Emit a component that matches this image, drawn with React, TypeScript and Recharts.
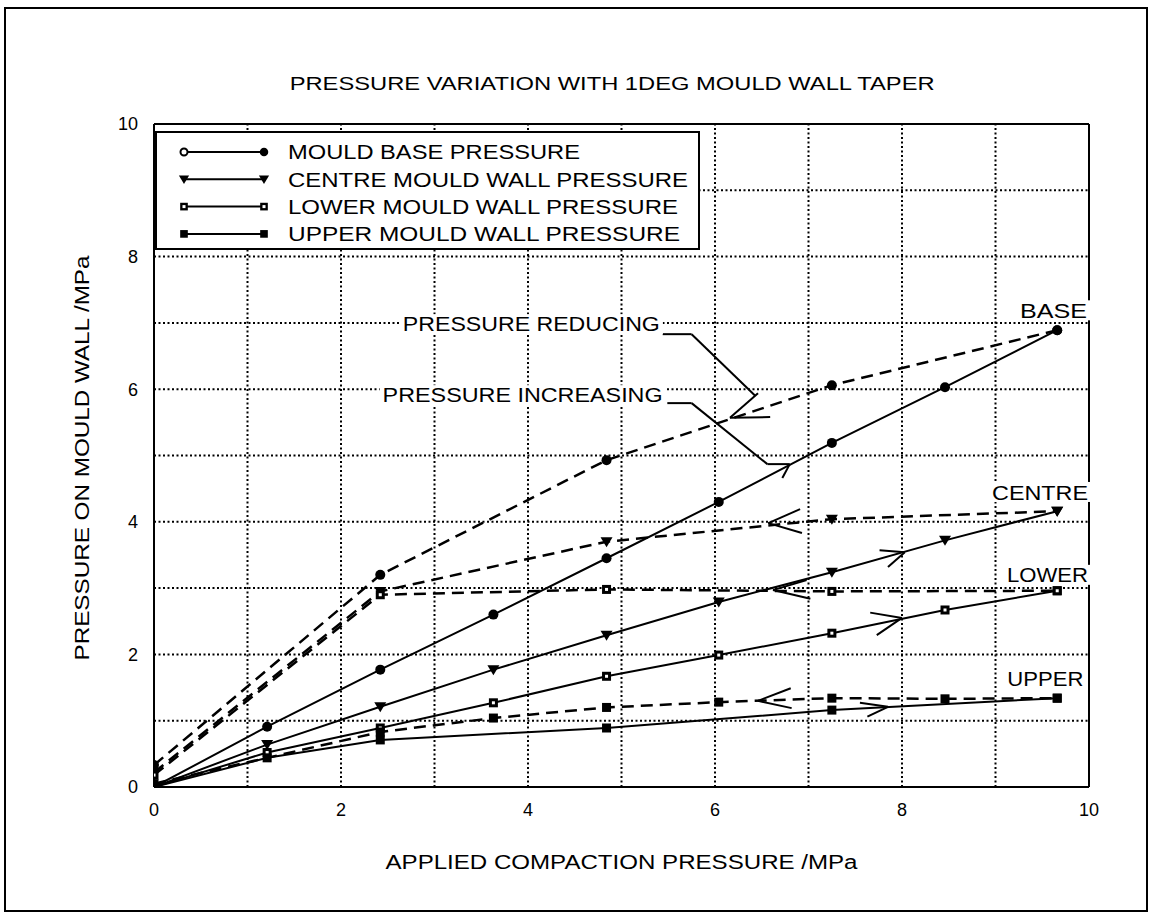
import React from "react";
import {
  LineChart,
  Line,
  XAxis,
  YAxis,
  ReferenceLine,
  ReferenceDot,
  Legend,
  Label,
} from "recharts";

// applied compaction pressure (MPa) at each loading step
const loadSteps = [0, 1.21, 2.42, 3.63, 4.84, 6.04, 7.25, 8.46, 9.66];
const baseIncreasing = [0, 0.91, 1.77, 2.6, 3.45, 4.3, 5.19, 6.03, 6.89];
const centreIncreasing = [0, 0.64, 1.21, 1.77, 2.29, 2.79, 3.24, 3.72, 4.16];
const lowerIncreasing = [0, 0.52, 0.89, 1.27, 1.67, 1.99, 2.32, 2.67, 2.96];

const upperLoadSteps = [0, 1.21, 2.42, 4.84, 7.25, 9.66];
const upperIncreasing = [0, 0.44, 0.71, 0.89, 1.16, 1.34];

// unloading steps
const unloadSteps = [0, 2.42, 4.84, 7.25, 9.66];
const baseReducing = [0.33, 3.2, 4.93, 6.06, 6.89];
const centreReducing = [0.22, 2.95, 3.7, 4.04, 4.16];
const lowerReducing = [0.18, 2.9, 2.98, 2.95, 2.96];

const upperUnloadSteps = [0, 2.42, 3.63, 4.84, 6.04, 7.25, 8.46, 9.66];
const upperReducing = [0.05, 0.83, 1.04, 1.2, 1.28, 1.34, 1.33, 1.34];

const axisTicks = [0, 2, 4, 6, 8, 10];
const gridSteps = [1, 2, 3, 4, 5, 6, 7, 8, 9];

// leader lines for the two notes (data units)
const reducingLeader = [
  [5.44, 6.83],
  [5.75, 6.83],
  [6.43, 5.9],
];
const increasingLeader = [
  [5.49, 5.79],
  [5.75, 5.79],
  [6.56, 4.87],
];
// direction chevrons: arm, tip, arm
const chevrons = [
  [[6.46, 5.94], [6.16, 5.57], [6.59, 5.58]],
  [[6.56, 4.87], [6.8, 4.87], [6.72, 4.66]],
  [[6.91, 4.19], [6.57, 3.98], [6.93, 3.83]],
  [[6.98, 3.12], [6.62, 2.97], [7.02, 2.84]],
  [[7.76, 3.57], [8.03, 3.54], [7.85, 3.32]],
  [[7.66, 2.63], [8.0, 2.55], [7.73, 2.29]],
  [[6.81, 1.49], [6.46, 1.3], [6.82, 1.19]],
  [[7.55, 1.27], [7.85, 1.21], [7.63, 1.06]],
];

const FONT = "'Liberation Sans', Arial, sans-serif";

type Note = {
  text: string;
  x: number;
  y: number;
  anchor: "end" | "middle";
  len: number;
  size: number;
  bg: boolean;
};

const notes: Note[] = [
  { text: "PRESSURE VARIATION WITH 1DEG MOULD WALL TAPER", x: 4.9, y: 10.62, anchor: "middle", len: 645, size: 19, bg: false },
  { text: "PRESSURE REDUCING", x: 5.41, y: 6.98, anchor: "end", len: 257, size: 20, bg: true },
  { text: "PRESSURE INCREASING", x: 5.44, y: 5.91, anchor: "end", len: 280, size: 20, bg: true },
  { text: "BASE", x: 9.98, y: 7.19, anchor: "end", len: 67, size: 21, bg: true },
  { text: "CENTRE", x: 9.99, y: 4.45, anchor: "end", len: 96, size: 21, bg: true },
  { text: "LOWER", x: 9.99, y: 3.2, anchor: "end", len: 81, size: 21, bg: true },
  { text: "UPPER", x: 9.94, y: 1.64, anchor: "end", len: 76, size: 21, bg: true },
];

const toPoints = (xs: number[], ys: number[]) => xs.map((x, i) => ({ x, y: ys[i] }));

function marker(kind: string, cx: number, cy: number, key?: string | number, scale = 1) {
  const s = scale;
  if (kind === "circle") return <circle key={key} cx={cx} cy={cy} r={5 * s} fill="#000" />;
  if (kind === "triangle")
    return (
      <path
        key={key}
        d={`M${cx - 6 * s},${cy - 4.5 * s} L${cx + 6 * s},${cy - 4.5 * s} L${cx},${cy + 5.5 * s} Z`}
        fill="#000"
      />
    );
  if (kind === "halfSquare")
    return (
      <g key={key}>
        <rect x={cx - 4.5 * s} y={cy - 4.5 * s} width={9 * s} height={9 * s} fill="#000" />
        <rect x={cx - 1.5} y={cy - 1.5} width={3} height={3} fill="#fff" />
      </g>
    );
  return <rect key={key} x={cx - 4.5 * s} y={cy - 4.5 * s} width={9 * s} height={9 * s} fill="#000" />;
}

const series = [
  { name: "MOULD BASE PRESSURE", data: toPoints(loadSteps, baseIncreasing), kind: "circle", dashed: false, legendLen: 292 },
  { name: "CENTRE MOULD WALL PRESSURE", data: toPoints(loadSteps, centreIncreasing), kind: "triangle", dashed: false, legendLen: 400 },
  { name: "LOWER MOULD WALL PRESSURE", data: toPoints(loadSteps, lowerIncreasing), kind: "halfSquare", dashed: false, legendLen: 390 },
  { name: "UPPER MOULD WALL PRESSURE", data: toPoints(upperLoadSteps, upperIncreasing), kind: "square", dashed: false, legendLen: 392 },
  { name: "base reducing", data: toPoints(unloadSteps, baseReducing), kind: "circle", dashed: true, legendLen: 0 },
  { name: "centre reducing", data: toPoints(unloadSteps, centreReducing), kind: "triangle", dashed: true, legendLen: 0 },
  { name: "lower reducing", data: toPoints(unloadSteps, lowerReducing), kind: "halfSquare", dashed: true, legendLen: 0 },
  { name: "upper reducing", data: toPoints(upperUnloadSteps, upperReducing), kind: "square", dashed: true, legendLen: 0 },
];

function segmentsOf(poly: number[][]) {
  const out: { x: number; y: number }[][] = [];
  for (let i = 0; i < poly.length - 1; i++) {
    out.push([
      { x: poly[i][0], y: poly[i][1] },
      { x: poly[i + 1][0], y: poly[i + 1][1] },
    ]);
  }
  return out;
}

const annotationSegments = [
  ...segmentsOf(reducingLeader),
  ...segmentsOf(increasingLeader),
  ...chevrons.flatMap((c) => segmentsOf(c)),
];

const noteShape = (n: Note) => (props: any) => {
  const { cx, cy } = props;
  if (cx == null || cy == null) return <g />;
  const left = n.anchor === "end" ? cx - n.len : cx - n.len / 2;
  return (
    <g>
      {n.bg && <rect x={left - 3} y={cy - 10} width={n.len + 6} height={20} fill="#fff" />}
      <text
        x={left}
        y={cy + n.size * 0.36}
        fontSize={n.size}
        fontFamily={FONT}
        fill="#000"
        textLength={n.len}
        lengthAdjust="spacingAndGlyphs"
      >
        {n.text}
      </text>
    </g>
  );
};

function LegendBox(props: any) {
  const payload = (props.payload || []) as any[];
  const rows = series.filter((s) => !s.dashed);
  return (
    <div
      style={{
        width: 545,
        height: 119,
        border: "2px solid #000",
        boxSizing: "border-box",
        background: "#fff",
      }}
    >
      <svg width={541} height={115}>
        {rows.map((s, i) => {
          const cy = 19 + i * 27.3;
          const entry = payload.find((p) => p.value === s.name);
          return (
            <g key={s.name}>
              <line x1={27} x2={107} y1={cy} y2={cy} stroke={entry?.color || "#000"} strokeWidth={2} />
              {s.kind === "circle" ? (
                <circle cx={27} cy={cy} r={3.5} fill="#fff" stroke="#000" strokeWidth={2} />
              ) : (
                marker(s.kind, 27, cy, "l", 0.85)
              )}
              {marker(s.kind, 107, cy, "r", 0.85)}
              <text
                x={131}
                y={cy + 7.2}
                fontSize={20}
                fontFamily={FONT}
                textLength={s.legendLen}
                lengthAdjust="spacingAndGlyphs"
              >
                {s.name}
              </text>
            </g>
          );
        })}
      </svg>
    </div>
  );
}

export default function App() {
  const tickStyle = { fontSize: 18, fontFamily: FONT, fill: "#000" };
  return (
    <div style={{ position: "relative", width: 1152, height: 919, background: "#fff" }}>
      <style>{"body{margin:0}"}</style>
      <div
        style={{
          position: "absolute",
          left: 4,
          top: 7,
          width: 1144,
          height: 905,
          border: "2px solid #000",
          boxSizing: "border-box",
          pointerEvents: "none",
        }}
      />
      <LineChart width={1152} height={919} margin={{ top: 124, right: 63, bottom: 102, left: 94 }}>
        {gridSteps.map((v) => (
          <ReferenceLine key={`gx${v}`} x={v} stroke="#000" strokeWidth={2} strokeDasharray="2 2.5" />
        ))}
        {gridSteps.map((v) => (
          <ReferenceLine key={`gy${v}`} y={v} stroke="#000" strokeWidth={2} strokeDasharray="2 2.5" />
        ))}
        <ReferenceLine y={10} stroke="#000" strokeWidth={2} />
        <ReferenceLine x={10} stroke="#000" strokeWidth={2} />
        <XAxis
          type="number"
          dataKey="x"
          domain={[0, 10]}
          ticks={axisTicks}
          allowDataOverflow
          height={30}
          tick={tickStyle}
          tickLine={false}
          tickSize={0}
          tickMargin={16}
          axisLine={{ stroke: "#000", strokeWidth: 2 }}
        >
          <Label
            content={(p: any) => {
              const vb = p.viewBox || { x: 154, y: 787, width: 935 };
              return (
                <text
                  x={vb.x + vb.width / 2 - 236}
                  y={vb.y + 82}
                  fontSize={20}
                  fontFamily={FONT}
                  textLength={472}
                  lengthAdjust="spacingAndGlyphs"
                >
                  APPLIED COMPACTION PRESSURE /MPa
                </text>
              );
            }}
          />
        </XAxis>
        <YAxis
          type="number"
          domain={[0, 10]}
          ticks={axisTicks}
          allowDataOverflow
          width={60}
          tick={tickStyle}
          tickLine={false}
          tickSize={0}
          tickMargin={16}
          axisLine={{ stroke: "#000", strokeWidth: 2 }}
        >
          <Label
            content={(p: any) => {
              const vb = p.viewBox || { x: 94, y: 124, height: 663 };
              const cx = vb.x - 5;
              const cy = vb.y + vb.height / 2 + 3;
              return (
                <text
                  x={cx}
                  y={cy + 202}
                  transform={`rotate(-90, ${cx}, ${cy + 202})`}
                  fontSize={20}
                  fontFamily={FONT}
                  textLength={405}
                  lengthAdjust="spacingAndGlyphs"
                >
                  PRESSURE ON MOULD WALL /MPa
                </text>
              );
            }}
          />
        </YAxis>
        {series.map((s) => (
          <Line
            key={s.name}
            name={s.name}
            data={s.data}
            dataKey="y"
            type="linear"
            stroke="#000"
            strokeWidth={s.dashed ? 2.5 : 2}
            strokeDasharray={s.dashed ? "12 7" : undefined}
            legendType={s.dashed ? "none" : "line"}
            dot={(p: any) =>
              p.cx == null ? <g key={`e${p.index}`} /> : marker(s.kind, p.cx, p.cy, `m${p.index}`)
            }
            activeDot={false}
            isAnimationActive={false}
          />
        ))}
        {annotationSegments.map((seg, i) => (
          <ReferenceLine
            key={`a${i}`}
            segment={seg}
            stroke="#000"
            strokeWidth={2}
            ifOverflow="visible"
          />
        ))}
        {notes.map((n) => (
          <ReferenceDot
            key={n.text}
            x={n.x}
            y={n.y}
            r={1}
            ifOverflow="visible"
            shape={noteShape(n)}
          />
        ))}
        <Legend
          layout="vertical"
          align="center"
          verticalAlign="middle"
          content={<LegendBox />}
          wrapperStyle={{ position: "absolute", left: 155, top: 131, width: 545, height: 119 }}
        />
      </LineChart>
    </div>
  );
}
